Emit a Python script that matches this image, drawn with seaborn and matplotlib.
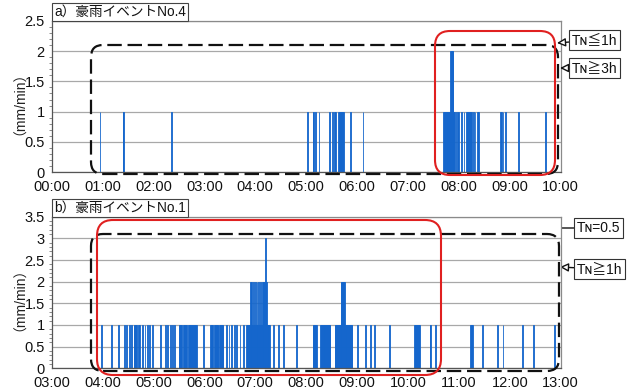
# %%
# 豪雨イベントの1分間雨量（mm/min）
import matplotlib
matplotlib.use('Agg')
import matplotlib.pyplot as plt
import seaborn as sns
from matplotlib import font_manager
from matplotlib.patches import FancyBboxPatch
from matplotlib.ticker import MultipleLocator
from matplotlib.transforms import IdentityTransform

# %%
# a) イベントNo.4 : 00:00 からの経過分
rain_min_a = [57, 84, 85, 141, 302, 308, 309, 311, 315, 327, 331, 333, 335,
              338, 339, 340, 341, 342, 343, 344, 352, 367,
              462, 463, 464, 465, 466, 467, 468, 469, 470, 471, 472, 473, 474, 475,
              477, 479, 480, 483, 486, 489, 490, 491, 492, 493, 494, 495, 497, 499,
              502, 503, 529, 530, 532, 535, 550, 582]
rain_2mm_a = [470, 471, 472, 473]

# b) イベントNo.1 : 00:00 からの経過分（03:00 = 180）
rain_min_b = [239, 250, 259, 266, 268, 272, 274, 277, 278, 279, 280, 282, 283,
              287, 290, 293, 295, 299, 308, 314, 317, 320, 322, 325,
              330, 331, 332, 333, 335, 336, 337, 338, 339, 341, 342, 343, 344, 345,
              346, 347, 348, 349, 350, 351, 359, 367, 368, 369, 370, 372, 373, 374,
              375, 376, 378, 379, 380, 381, 382, 386, 389, 392, 395, 398, 402, 406,
              410, 411, 412, 413, 414, 415, 416, 417, 418, 419, 420, 421, 422, 423,
              424, 425, 426, 427, 428, 429, 430, 431, 432, 433, 434, 435, 436, 437,
              441, 447, 453, 469, 488, 489, 490, 491, 492,
              497, 498, 499, 500, 501, 502, 503, 504, 505, 506, 507, 508,
              514, 515, 516, 517, 518, 519, 520, 521, 522, 523, 524, 525, 526, 527,
              528, 529, 530, 531, 532, 533, 534, 540, 550, 556, 561, 578,
              608, 609, 610, 611, 612, 613, 614, 626, 627, 632, 674, 675, 676,
              688, 706, 712, 735, 748, 773]
rain_2mm_b = [414, 416, 418, 420, 422, 424, 426, 428, 429, 430, 431, 433,
              521, 522, 523, 524, 525]
rain_3mm_b = [432]

xticks_a = [0, 60, 120, 180, 240, 300, 360, 420, 480, 540, 600]
xlabels_a = ['00:00', '01:00', '02:00', '03:00', '04:00', '05:00', '06:00',
             '07:00', '08:00', '09:00', '10:00']
xticks_b = [180, 240, 300, 360, 420, 480, 540, 600, 660, 720, 780]
xlabels_b = ['03:00', '04:00', '05:00', '06:00', '07:00', '08:00', '09:00',
             '10:00', '11:00', '12:00', '13:00']
yticks_a = [0, 0.5, 1, 1.5, 2, 2.5]
ylabels_a = ['0', '0.5', '1', '1.5', '2', '2.5']
yticks_b = [0, 0.5, 1, 1.5, 2, 2.5, 3, 3.5]
ylabels_b = ['0', '0.5', '1', '1.5', '2', '2.5', '3', '3.5']

rain_a = [2 if m in rain_2mm_a else 1 for m in rain_min_a]
rain_b = [3 if m in rain_3mm_b else 2 if m in rain_2mm_b else 1 for m in rain_min_b]

# %%
sns.set_style('white')
fams = {f.name for f in font_manager.fontManager.ttflist}
num_font = 'Liberation Sans Narrow' if 'Liberation Sans Narrow' in fams else 'Liberation Sans'
plt.rcParams['font.family'] = [num_font, 'DejaVu Sans', 'Noto Sans CJK JP']
cjk = [num_font, 'Noto Sans CJK JP', 'DejaVu Sans']

W, H = 641, 392
azul = '#1466cc'

fig = plt.figure(figsize=(W / 100, H / 100), dpi=100)
ax_a = fig.add_axes([51.7 / W, (H - 172.3) / H, 509 / W, 151.6 / H])
ax_b = fig.add_axes([51.7 / W, (H - 368.3) / H, 509 / W, 151.6 / H])


def painel(ax, minutos, chuva, xticks, xlabels, yticks, ylabels, titulo, ty):
    sns.barplot(x=minutos, y=chuva, native_scale=True, color=azul, saturation=1,
                width=1, errorbar=None, linewidth=0.6, edgecolor=azul, ax=ax)
    ax.set_xlim(xticks[0], xticks[-1])
    ax.set_ylim(yticks[0], yticks[-1])
    ax.set_xticks(xticks)
    ax.set_xticklabels(xlabels)
    ax.set_yticks(yticks)
    ax.set_yticklabels(ylabels)
    ax.yaxis.set_minor_locator(MultipleLocator(0.1))
    ax.set_xlabel('')
    ax.set_ylabel('（mm/min）', fontsize=10, labelpad=3, color='#222', family=cjk)
    ax.yaxis.grid(True, color='#a8a8a8', lw=0.9)
    ax.set_axisbelow(True)
    for s in ['top', 'right']:
        ax.spines[s].set_color('#8a8a8a')
        ax.spines[s].set_linewidth(0.9)
    for s in ['left', 'bottom']:
        ax.spines[s].set_color('#555555')
        ax.spines[s].set_linewidth(0.9)
    ax.tick_params(axis='x', which='major', direction='inout', length=5, width=0.8,
                   color='#555', labelsize=10.5, pad=3, labelcolor='#111')
    ax.tick_params(axis='y', which='major', direction='out', length=4, width=0.8,
                   color='#555', labelsize=10.5, pad=1, labelcolor='#111')
    ax.tick_params(axis='y', which='minor', direction='out', length=2, width=0.6,
                   color='#777', left=True)
    fig.text(54 / W, (H - ty) / H, titulo, fontsize=9.8, ha='left', va='bottom',
             color='#111', family=cjk,
             bbox=dict(boxstyle='square,pad=0.18', fc='white', ec='#444', lw=0.8))


painel(ax_a, rain_min_a, rain_a, xticks_a, xlabels_a, yticks_a, ylabels_a,
       'a）豪雨イベントNo.4', 19)
painel(ax_b, rain_min_b, rain_b, xticks_b, xlabels_b, yticks_b, ylabels_b,
       'b）豪雨イベントNo.1', 215)


# %%
# 囲み枠（画像ピクセル座標）
def caixa(x0, y0, x1, y1, r, **kw):
    p = FancyBboxPatch((x0, H - y1), x1 - x0, y1 - y0,
                       boxstyle=f'round,pad=0,rounding_size={r}',
                       transform=IdentityTransform(), fill=False, **kw)
    fig.add_artist(p)


tracejado = dict(ec='#111', lw=1.6, ls=(0, (6.5, 2.6)))
vermelho = dict(ec='#e02020', lw=1.5)

caixa(91, 45, 558, 174, 12, **tracejado)
caixa(435, 31, 555, 175, 15, **vermelho)
caixa(91, 234, 559, 371, 12, **tracejado)
caixa(97, 220, 441, 375, 16, **vermelho)


def rotulo(texto, tx, ty, ax_x, ax_y):
    ax_a.annotate(texto, xy=(ax_x, H - ax_y), xycoords='figure pixels',
                  xytext=(tx, H - ty), textcoords='figure pixels',
                  ha='left', va='center', fontsize=10, color='#111', family=cjk,
                  annotation_clip=False,
                  bbox=dict(boxstyle='square,pad=0.2', fc='white', ec='#333', lw=0.8),
                  arrowprops=dict(arrowstyle='-|>,head_length=0.5,head_width=0.25',
                                  fc='white', ec='#111', lw=1, shrinkA=0, shrinkB=0))


rotulo('Tɴ≦1h', 572, 40, 557, 43)
rotulo('Tɴ≧3h', 572, 68, 560, 68)
rotulo('Tɴ=0.5', 577, 228, 441, 228)
rotulo('Tɴ≧1h', 577, 269, 560, 267)

fig.savefig('out.png', dpi=100)
